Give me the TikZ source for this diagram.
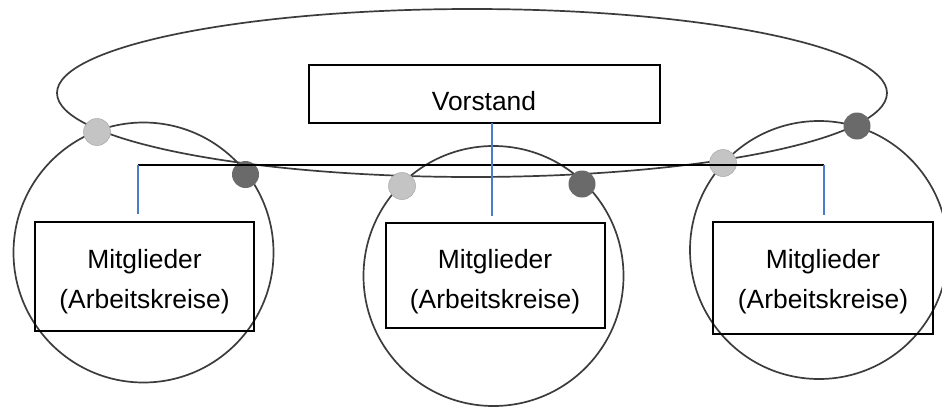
\documentclass[tikz,border=0pt]{standalone}
\usepackage{fontspec}
\setmainfont{Liberation Sans}
\definecolor{linegray}{HTML}{3C3C3C}
\definecolor{dotlight}{HTML}{C4C4C4}
\definecolor{dotdark}{HTML}{6A6A6A}
\definecolor{officeblue}{HTML}{4A7EC8}
\begin{document}
\begin{tikzpicture}[x=1pt,y=-1pt,
  ring/.style={draw=linegray,line width=1.7pt},
  boxnode/.style={draw=black,line width=1.1pt,inner sep=0pt},
  lbl/.style={font=\fontsize{26.4}{40}\selectfont,anchor=base,inner sep=0pt},
  lightdot/.style={circle,fill=dotlight,draw=dotlight!85!black,line width=0.5pt,minimum size=27pt,inner sep=0pt},
  darkdot/.style={circle,fill=dotdark,minimum size=27pt,inner sep=0pt},
  blackline/.style={draw=black,line width=1.4pt},
  blueline/.style={draw=officeblue,line width=1.3pt}]
\useasboundingbox (0,0) rectangle (942,407);
\fill[white] (0,0) rectangle (942,407);
\begin{scope}
\clip (0,0) rectangle (942,407);
% big ellipse and three circles
\draw[ring] (472,93) ellipse [x radius=415pt, y radius=84pt];
\draw[ring] (143.5,252.5) circle [radius=130pt];
\draw[ring] (493.5,276) circle [radius=130pt];
\draw[ring] (819,250) circle [radius=129pt];
\end{scope}
% boxes
\node[boxnode,minimum width=351pt,minimum height=58pt] (vorstand) at (484.5,94) {};
\node[boxnode,minimum width=219pt,minimum height=109pt] (m1) at (144.5,276.5) {};
\node[boxnode,minimum width=219pt,minimum height=105pt] (m2) at (495.5,275.5) {};
\node[boxnode,minimum width=220pt,minimum height=112pt] (m3) at (823,278) {};
% texts
\node[lbl] (tv) at (484,110) {Vorstand};
\node[lbl] (t1a) at (144.5,268) {Mitglieder};
\node[lbl] (t1b) at (144.5,308) {(Arbeitskreise)};
\node[lbl] (t2a) at (495,268) {Mitglieder};
\node[lbl] (t2b) at (495,308) {(Arbeitskreise)};
\node[lbl] (t3a) at (823,268) {Mitglieder};
\node[lbl] (t3b) at (823,308) {(Arbeitskreise)};
% dots
\node[lightdot] (l1) at (97,132) {};
\node[darkdot] (d1) at (245.5,174.5) {};
\node[lightdot] (l2) at (402,186) {};
\node[darkdot] (d2) at (582,184) {};
\node[lightdot] (l3) at (723,163) {};
\node[darkdot] (d3) at (857,126) {};
% connectors
\coordinate (jl) at (138,165);
\coordinate (jr) at (824,165);
\coordinate (vm) at (492,123);
\draw[blackline] (jl) -- (jr);
\draw[blueline,shorten >=7pt] (jl) -- (jl |- m1.north);
\draw[blueline,shorten >=6pt] (jr) -- (jr |- m3.north);
\draw[blueline,shorten >=6pt] (vm) -- (vm |- m2.north);
\end{tikzpicture}
\end{document}
